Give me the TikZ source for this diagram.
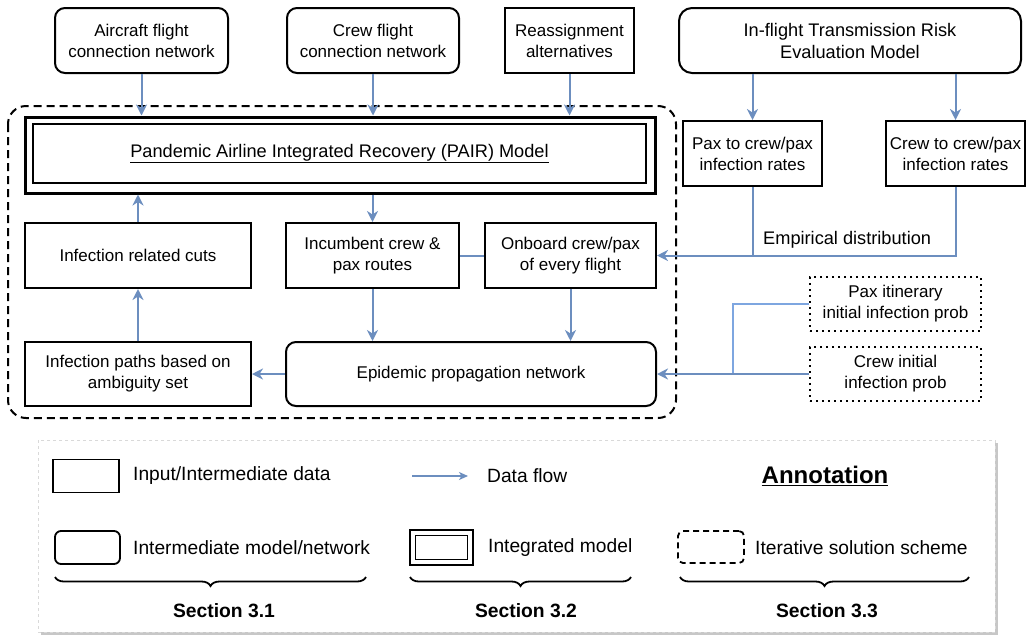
\documentclass[tikz,border=0pt]{standalone}
\usepackage{fontspec}
\setmainfont{Liberation Sans}
\usetikzlibrary{arrows.meta,decorations.pathreplacing}
\definecolor{flowblue}{HTML}{6C8EBF}
\definecolor{lightflow}{HTML}{7EA6E0}
\definecolor{legendline}{HTML}{D9D9D9}
\tikzset{
  txt/.style={font=\fontsize{17}{21}\selectfont, align=center, inner sep=0pt},
  bigtxt/.style={font=\fontsize{18.2}{22}\selectfont},
  databox/.style={txt, draw, line width=2pt, rectangle},
  modelbox/.style={databox, rounded corners=10pt},
  initbox/.style={txt, draw, line width=2pt, dash pattern=on 2pt off 4pt},
  flow/.style={draw=flowblue, line width=2pt, -{Stealth[length=11pt,width=11pt,inset=3.5pt]}},
  flowline/.style={draw=flowblue, line width=2pt},
  lbl/.style={font=\fontsize{19.2}{23}\selectfont, anchor=west, inner sep=0pt},
  secbrace/.style={decorate, decoration={brace, mirror, amplitude=9pt}, line width=1.8pt},
  seclbl/.style={font=\bfseries\fontsize{19.3}{23}\selectfont, inner sep=0pt}
}
\begin{document}
\begin{tikzpicture}[x=1pt,y=-1pt]
\useasboundingbox (0,0) rectangle (1027,635);

% iterative solution scheme region
\draw[line width=2pt, dash pattern=on 8pt off 5pt, rounded corners=18pt] (8,106) rectangle (676,418);

% input networks and data
\node[modelbox, minimum width=173pt, minimum height=65pt] (acf) at (141.5,40.5) {Aircraft flight\\connection network};
\node[modelbox, minimum width=172pt, minimum height=65pt] (crf) at (373,40.5) {Crew flight\\connection network};
\node[databox, minimum width=129pt, minimum height=65pt] (rea) at (569.5,40.5) {Reassignment\\alternatives};
\node[modelbox, bigtxt, rounded corners=13pt, minimum width=342pt, minimum height=65pt] (itr) at (850,40.5) {In-flight Transmission Risk\\Evaluation Model};

% integrated recovery model (double frame)
\node[draw, line width=3pt, minimum width=630pt, minimum height=76pt] (pair) at (340,155) {};
\node[txt, bigtxt, draw, line width=2pt, minimum width=613pt, minimum height=59pt] (pairin) at (339.5,153.5) {\underline{Pandemic Airline Integrated Recovery (PAIR) Model}};

% middle row
\node[databox, minimum width=226pt, minimum height=65pt] (cuts) at (138,255.5) {Infection related cuts};
\node[databox, minimum width=173pt, minimum height=65pt] (inc) at (372.5,255.5) {Incumbent crew \&\\pax routes};
\node[databox, minimum width=171pt, minimum height=65pt] (onb) at (570.5,255.5) {Onboard crew/pax\\of every flight};

% bottom row
\node[databox, minimum width=226pt, minimum height=64pt] (paths) at (138,374) {Infection paths based on\\ambiguity set};
\node[modelbox, minimum width=370pt, minimum height=64pt] (epi) at (471,374) {Epidemic propagation network};

% infection rates
\node[databox, minimum width=139pt, minimum height=65pt] (pax) at (752.5,153.5) {Pax to crew/pax\\infection rates};
\node[databox, minimum width=139pt, minimum height=65pt] (crw) at (955.5,153.5) {Crew to crew/pax\\infection rates};

% initial infection probabilities
\node[initbox, minimum width=171pt, minimum height=54pt] (pii) at (895.5,304) {Pax itinerary\\initial infection prob};
\node[initbox, minimum width=171pt, minimum height=54pt] (cii) at (895.5,374) {Crew initial\\infection prob};

% data flows
\draw[flow] (acf.south) -- (acf.south |- pair.north);
\draw[flow] (crf.south) -- (crf.south |- pair.north);
\draw[flow] (rea.south) -- (rea.south |- pair.north);
\draw[flow] (itr.south -| pax.north) -- (pax.north);
\draw[flow] (itr.south -| crw.north) -- (crw.north);
\draw[flow] (pair.south -| inc.north) -- (inc.north);
\draw[flow] (cuts.north) -- (cuts.north |- pair.south);
\draw[flow] (paths.north) -- (cuts.south);
\draw[flow] (inc.south) -- (inc.south |- epi.north);
\draw[flow] (onb.south) -- (onb.south |- epi.north);
\draw[flow] (epi.west) -- (paths.east);
\draw[flowline] (inc.east) -- (onb.west);

\draw[flowline] (crw.south) |- (pax.south |- onb.east);
\draw[flow] (pax.south) |- (onb.east);
\node[txt, bigtxt, anchor=west] (emp) at (763,240) {Empirical distribution};

\coordinate (join) at (733,374);
\draw[draw=lightflow, line width=2pt] (pii.west) -| (join);
\draw[flow] (cii.west) -- (epi.east);

% legend panel
\fill[black!22] (41,443) rectangle (998,635);
\draw[legendline, fill=white, line width=1pt, dash pattern=on 3pt off 3pt] (38,440) rectangle (995,632);

\node[draw, line width=1.8pt, minimum width=66pt, minimum height=33pt] (lgdata) at (86,476) {};
\node[lbl] (lgdatat) at (133,476) {Input/Intermediate data};

\coordinate (lgfa) at (412,476);
\coordinate (lgfb) at (468,476);
\draw[draw=flowblue, line width=1.4pt, -{Stealth[length=9pt,width=8pt,inset=2.5pt]}] (lgfa) -- (lgfb);
\node[lbl] (lgflowt) at (487,476) {Data flow};

\node[font=\bfseries\fontsize{24}{28}\selectfont, inner sep=0pt] (annot) at (825,476) {\underline{Annotation}};

\node[draw, line width=1.8pt, rounded corners=6pt, minimum width=65pt, minimum height=33pt] (lgmodel) at (87.5,547.5) {};
\node[lbl] (lgmodelt) at (133,548) {Intermediate model/network};

\node[draw, line width=2.6pt, minimum width=63pt, minimum height=35pt] (lgint) at (441.5,547.5) {};
\node[draw, line width=1.6pt, minimum width=52pt, minimum height=24pt] (lgintin) at (441.5,547.5) {};
\node[lbl] (lgintt) at (488,548) {Integrated model};

\node[draw, line width=1.8pt, dash pattern=on 6pt off 4pt, rounded corners=5pt, minimum width=66pt, minimum height=32pt] (lgiter) at (711,547) {};
\node[lbl] (lgitert) at (755,548) {Iterative solution scheme};

\draw[secbrace] (55,577) -- (366,577);
\draw[secbrace] (410,577) -- (631,577);
\draw[secbrace] (680,577) -- (969,577);
\node[seclbl] (s31) at (224,611) {Section 3.1};
\node[seclbl] (s32) at (526,611) {Section 3.2};
\node[seclbl] (s33) at (827,611) {Section 3.3};
\end{tikzpicture}
\end{document}
